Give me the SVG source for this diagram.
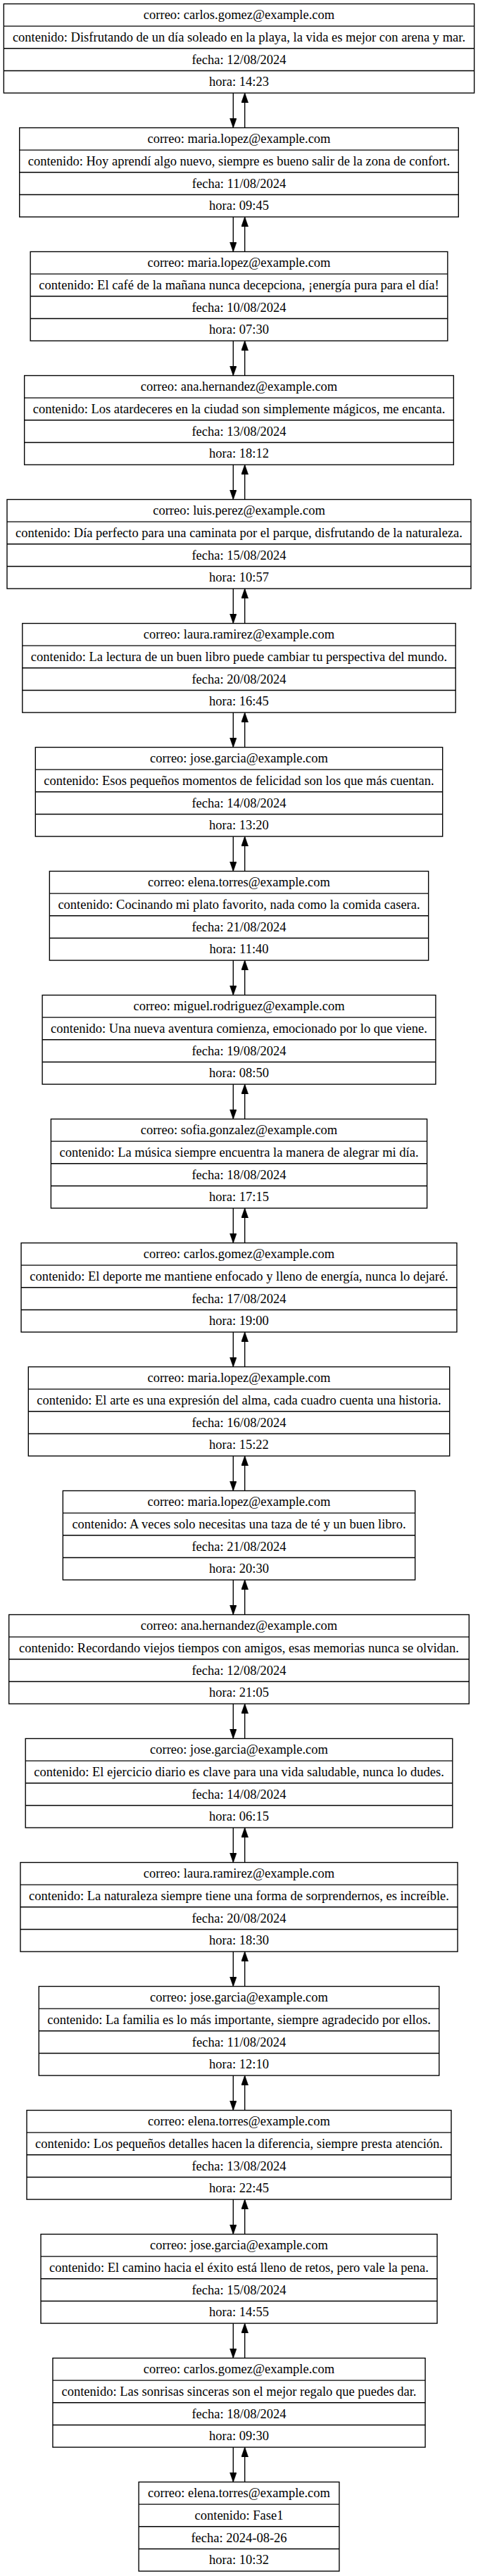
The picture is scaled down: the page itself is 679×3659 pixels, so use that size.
<svg xmlns="http://www.w3.org/2000/svg" width="679" height="3659" viewBox="0 0 679 3659">
<style>
.n rect{fill:#fff;stroke:#000;stroke-width:1.37}
.n path{fill:none;stroke:#000;stroke-width:1.37}
.n text{font-family:"Liberation Serif","Times New Roman",serif;font-size:18.5px;text-anchor:middle;fill:#000}
#edges path{fill:none;stroke:#000;stroke-width:1.37}
</style>
<defs>
<marker id="ah" viewBox="0 0 10 7" refX="10" refY="3.5" markerWidth="14" markerHeight="9.8" markerUnits="userSpaceOnUse" orient="auto">
<path d="M0,0L10,3.5L0,7Z" fill="#000" stroke="#000" stroke-width="0.5"/>
</marker>
</defs>
<rect width="679" height="3659" fill="#fff"/>
<g id="edges">
<path d="M331.3,132.1V181.5" marker-end="url(#ah)"/>
<path d="M347.7,181.5V132.1" marker-end="url(#ah)"/>
<path d="M331.3,308.1V357.5" marker-end="url(#ah)"/>
<path d="M347.7,357.5V308.1" marker-end="url(#ah)"/>
<path d="M331.3,484.1V533.5" marker-end="url(#ah)"/>
<path d="M347.7,533.5V484.1" marker-end="url(#ah)"/>
<path d="M331.3,660.1V709.5" marker-end="url(#ah)"/>
<path d="M347.7,709.5V660.1" marker-end="url(#ah)"/>
<path d="M331.3,836.1V885.5" marker-end="url(#ah)"/>
<path d="M347.7,885.5V836.1" marker-end="url(#ah)"/>
<path d="M331.3,1012.1V1061.5" marker-end="url(#ah)"/>
<path d="M347.7,1061.5V1012.1" marker-end="url(#ah)"/>
<path d="M331.3,1188.1V1237.5" marker-end="url(#ah)"/>
<path d="M347.7,1237.5V1188.1" marker-end="url(#ah)"/>
<path d="M331.3,1364.1V1413.5" marker-end="url(#ah)"/>
<path d="M347.7,1413.5V1364.1" marker-end="url(#ah)"/>
<path d="M331.3,1540.1V1589.5" marker-end="url(#ah)"/>
<path d="M347.7,1589.5V1540.1" marker-end="url(#ah)"/>
<path d="M331.3,1716.1V1765.5" marker-end="url(#ah)"/>
<path d="M347.7,1765.5V1716.1" marker-end="url(#ah)"/>
<path d="M331.3,1892.1V1941.5" marker-end="url(#ah)"/>
<path d="M347.7,1941.5V1892.1" marker-end="url(#ah)"/>
<path d="M331.3,2068.1V2117.5" marker-end="url(#ah)"/>
<path d="M347.7,2117.5V2068.1" marker-end="url(#ah)"/>
<path d="M331.3,2244.1V2293.5" marker-end="url(#ah)"/>
<path d="M347.7,2293.5V2244.1" marker-end="url(#ah)"/>
<path d="M331.3,2420.1V2469.5" marker-end="url(#ah)"/>
<path d="M347.7,2469.5V2420.1" marker-end="url(#ah)"/>
<path d="M331.3,2596.1V2645.5" marker-end="url(#ah)"/>
<path d="M347.7,2645.5V2596.1" marker-end="url(#ah)"/>
<path d="M331.3,2772.1V2821.5" marker-end="url(#ah)"/>
<path d="M347.7,2821.5V2772.1" marker-end="url(#ah)"/>
<path d="M331.3,2948.1V2997.5" marker-end="url(#ah)"/>
<path d="M347.7,2997.5V2948.1" marker-end="url(#ah)"/>
<path d="M331.3,3124.1V3173.5" marker-end="url(#ah)"/>
<path d="M347.7,3173.5V3124.1" marker-end="url(#ah)"/>
<path d="M331.3,3300.1V3349.5" marker-end="url(#ah)"/>
<path d="M347.7,3349.5V3300.1" marker-end="url(#ah)"/>
<path d="M331.3,3476.1V3525.5" marker-end="url(#ah)"/>
<path d="M347.7,3525.5V3476.1" marker-end="url(#ah)"/>
</g>
<g id="n1" class="n" transform="translate(5.35,5.5)"><rect width="668.3" height="126.6"/><path d="M0,31.65H668.3M0,63.3H668.3M0,94.95H668.3"/><text x="334.15" y="21.8">correo: carlos.gomez@example.com</text><text x="334.15" y="53.5">contenido: Disfrutando de un día soleado en la playa, la vida es mejor con arena y mar.</text><text x="334.15" y="85.1">fecha: 12/08/2024</text><text x="334.15" y="116.8">hora: 14:23</text></g>
<g id="n2" class="n" transform="translate(27.7,181.5)"><rect width="623.6" height="126.6"/><path d="M0,31.65H623.6M0,63.3H623.6M0,94.95H623.6"/><text x="311.8" y="21.8">correo: maria.lopez@example.com</text><text x="311.8" y="53.5">contenido: Hoy aprendí algo nuevo, siempre es bueno salir de la zona de confort.</text><text x="311.8" y="85.1">fecha: 11/08/2024</text><text x="311.8" y="116.8">hora: 09:45</text></g>
<g id="n3" class="n" transform="translate(43.15,357.5)"><rect width="592.7" height="126.6"/><path d="M0,31.65H592.7M0,63.3H592.7M0,94.95H592.7"/><text x="296.35" y="21.8">correo: maria.lopez@example.com</text><text x="296.35" y="53.5">contenido: El café de la mañana nunca decepciona, ¡energía pura para el día!</text><text x="296.35" y="85.1">fecha: 10/08/2024</text><text x="296.35" y="116.8">hora: 07:30</text></g>
<g id="n4" class="n" transform="translate(34.65,533.5)"><rect width="609.7" height="126.6"/><path d="M0,31.65H609.7M0,63.3H609.7M0,94.95H609.7"/><text x="304.85" y="21.8">correo: ana.hernandez@example.com</text><text x="304.85" y="53.5">contenido: Los atardeceres en la ciudad son simplemente mágicos, me encanta.</text><text x="304.85" y="85.1">fecha: 13/08/2024</text><text x="304.85" y="116.8">hora: 18:12</text></g>
<g id="n5" class="n" transform="translate(10,709.5)"><rect width="659" height="126.6"/><path d="M0,31.65H659M0,63.3H659M0,94.95H659"/><text x="329.5" y="21.8">correo: luis.perez@example.com</text><text x="329.5" y="53.5">contenido: Día perfecto para una caminata por el parque, disfrutando de la naturaleza.</text><text x="329.5" y="85.1">fecha: 15/08/2024</text><text x="329.5" y="116.8">hora: 10:57</text></g>
<g id="n6" class="n" transform="translate(31.8,885.5)"><rect width="615.4" height="126.6"/><path d="M0,31.65H615.4M0,63.3H615.4M0,94.95H615.4"/><text x="307.7" y="21.8">correo: laura.ramirez@example.com</text><text x="307.7" y="53.5">contenido: La lectura de un buen libro puede cambiar tu perspectiva del mundo.</text><text x="307.7" y="85.1">fecha: 20/08/2024</text><text x="307.7" y="116.8">hora: 16:45</text></g>
<g id="n7" class="n" transform="translate(50.3,1061.5)"><rect width="578.4" height="126.6"/><path d="M0,31.65H578.4M0,63.3H578.4M0,94.95H578.4"/><text x="289.2" y="21.8">correo: jose.garcia@example.com</text><text x="289.2" y="53.5">contenido: Esos pequeños momentos de felicidad son los que más cuentan.</text><text x="289.2" y="85.1">fecha: 14/08/2024</text><text x="289.2" y="116.8">hora: 13:20</text></g>
<g id="n8" class="n" transform="translate(70.35,1237.5)"><rect width="538.3" height="126.6"/><path d="M0,31.65H538.3M0,63.3H538.3M0,94.95H538.3"/><text x="269.15" y="21.8">correo: elena.torres@example.com</text><text x="269.15" y="53.5">contenido: Cocinando mi plato favorito, nada como la comida casera.</text><text x="269.15" y="85.1">fecha: 21/08/2024</text><text x="269.15" y="116.8">hora: 11:40</text></g>
<g id="n9" class="n" transform="translate(60.1,1413.5)"><rect width="558.8" height="126.6"/><path d="M0,31.65H558.8M0,63.3H558.8M0,94.95H558.8"/><text x="279.4" y="21.8">correo: miguel.rodriguez@example.com</text><text x="279.4" y="53.5">contenido: Una nueva aventura comienza, emocionado por lo que viene.</text><text x="279.4" y="85.1">fecha: 19/08/2024</text><text x="279.4" y="116.8">hora: 08:50</text></g>
<g id="n10" class="n" transform="translate(72.4,1589.5)"><rect width="534.2" height="126.6"/><path d="M0,31.65H534.2M0,63.3H534.2M0,94.95H534.2"/><text x="267.1" y="21.8">correo: sofia.gonzalez@example.com</text><text x="267.1" y="53.5">contenido: La música siempre encuentra la manera de alegrar mi día.</text><text x="267.1" y="85.1">fecha: 18/08/2024</text><text x="267.1" y="116.8">hora: 17:15</text></g>
<g id="n11" class="n" transform="translate(30.05,1765.5)"><rect width="618.9" height="126.6"/><path d="M0,31.65H618.9M0,63.3H618.9M0,94.95H618.9"/><text x="309.45" y="21.8">correo: carlos.gomez@example.com</text><text x="309.45" y="53.5">contenido: El deporte me mantiene enfocado y lleno de energía, nunca lo dejaré.</text><text x="309.45" y="85.1">fecha: 17/08/2024</text><text x="309.45" y="116.8">hora: 19:00</text></g>
<g id="n12" class="n" transform="translate(40.3,1941.5)"><rect width="598.4" height="126.6"/><path d="M0,31.65H598.4M0,63.3H598.4M0,94.95H598.4"/><text x="299.2" y="21.8">correo: maria.lopez@example.com</text><text x="299.2" y="53.5">contenido: El arte es una expresión del alma, cada cuadro cuenta una historia.</text><text x="299.2" y="85.1">fecha: 16/08/2024</text><text x="299.2" y="116.8">hora: 15:22</text></g>
<g id="n13" class="n" transform="translate(89.35,2117.5)"><rect width="500.3" height="126.6"/><path d="M0,31.65H500.3M0,63.3H500.3M0,94.95H500.3"/><text x="250.15" y="21.8">correo: maria.lopez@example.com</text><text x="250.15" y="53.5">contenido: A veces solo necesitas una taza de té y un buen libro.</text><text x="250.15" y="85.1">fecha: 21/08/2024</text><text x="250.15" y="116.8">hora: 20:30</text></g>
<g id="n14" class="n" transform="translate(12.7,2293.5)"><rect width="653.6" height="126.6"/><path d="M0,31.65H653.6M0,63.3H653.6M0,94.95H653.6"/><text x="326.8" y="21.8">correo: ana.hernandez@example.com</text><text x="326.8" y="53.5">contenido: Recordando viejos tiempos con amigos, esas memorias nunca se olvidan.</text><text x="326.8" y="85.1">fecha: 12/08/2024</text><text x="326.8" y="116.8">hora: 21:05</text></g>
<g id="n15" class="n" transform="translate(36.2,2469.5)"><rect width="606.6" height="126.6"/><path d="M0,31.65H606.6M0,63.3H606.6M0,94.95H606.6"/><text x="303.3" y="21.8">correo: jose.garcia@example.com</text><text x="303.3" y="53.5">contenido: El ejercicio diario es clave para una vida saludable, nunca lo dudes.</text><text x="303.3" y="85.1">fecha: 14/08/2024</text><text x="303.3" y="116.8">hora: 06:15</text></g>
<g id="n16" class="n" transform="translate(28.95,2645.5)"><rect width="621.1" height="126.6"/><path d="M0,31.65H621.1M0,63.3H621.1M0,94.95H621.1"/><text x="310.55" y="21.8">correo: laura.ramirez@example.com</text><text x="310.55" y="53.5">contenido: La naturaleza siempre tiene una forma de sorprendernos, es increíble.</text><text x="310.55" y="85.1">fecha: 20/08/2024</text><text x="310.55" y="116.8">hora: 18:30</text></g>
<g id="n17" class="n" transform="translate(55.2,2821.5)"><rect width="568.6" height="126.6"/><path d="M0,31.65H568.6M0,63.3H568.6M0,94.95H568.6"/><text x="284.3" y="21.8">correo: jose.garcia@example.com</text><text x="284.3" y="53.5">contenido: La familia es lo más importante, siempre agradecido por ellos.</text><text x="284.3" y="85.1">fecha: 11/08/2024</text><text x="284.3" y="116.8">hora: 12:10</text></g>
<g id="n18" class="n" transform="translate(38,2997.5)"><rect width="603" height="126.6"/><path d="M0,31.65H603M0,63.3H603M0,94.95H603"/><text x="301.5" y="21.8">correo: elena.torres@example.com</text><text x="301.5" y="53.5">contenido: Los pequeños detalles hacen la diferencia, siempre presta atención.</text><text x="301.5" y="85.1">fecha: 13/08/2024</text><text x="301.5" y="116.8">hora: 22:45</text></g>
<g id="n19" class="n" transform="translate(58,3173.5)"><rect width="563" height="126.6"/><path d="M0,31.65H563M0,63.3H563M0,94.95H563"/><text x="281.5" y="21.8">correo: jose.garcia@example.com</text><text x="281.5" y="53.5">contenido: El camino hacia el éxito está lleno de retos, pero vale la pena.</text><text x="281.5" y="85.1">fecha: 15/08/2024</text><text x="281.5" y="116.8">hora: 14:55</text></g>
<g id="n20" class="n" transform="translate(74.95,3349.5)"><rect width="529.1" height="126.6"/><path d="M0,31.65H529.1M0,63.3H529.1M0,94.95H529.1"/><text x="264.55" y="21.8">correo: carlos.gomez@example.com</text><text x="264.55" y="53.5">contenido: Las sonrisas sinceras son el mejor regalo que puedes dar.</text><text x="264.55" y="85.1">fecha: 18/08/2024</text><text x="264.55" y="116.8">hora: 09:30</text></g>
<g id="n21" class="n" transform="translate(197.1,3525.5)"><rect width="284.8" height="126.6"/><path d="M0,31.65H284.8M0,63.3H284.8M0,94.95H284.8"/><text x="142.4" y="21.8">correo: elena.torres@example.com</text><text x="142.4" y="53.5">contenido: Fase1</text><text x="142.4" y="85.1">fecha: 2024-08-26</text><text x="142.4" y="116.8">hora: 10:32</text></g>
</svg>
